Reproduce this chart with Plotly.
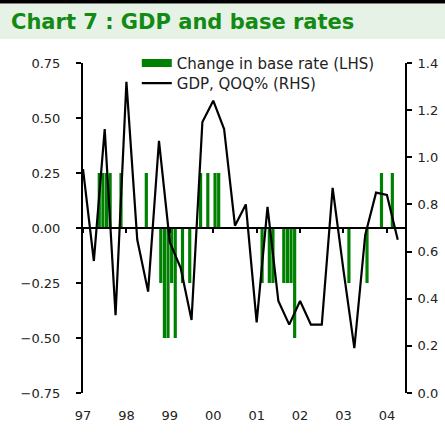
import plotly.graph_objects as go

# ---- data ----
rate_change_months = ["1997-05", "1997-06", "1997-07", "1997-08", "1997-11", "1998-06",
                      "1998-10", "1998-11", "1998-12", "1999-01", "1999-02", "1999-04",
                      "1999-06", "1999-09", "1999-11", "2000-01", "2000-02",
                      "2001-02", "2001-04", "2001-05", "2001-08", "2001-09", "2001-10",
                      "2001-11", "2003-02", "2003-07", "2003-11", "2004-02"]
rate_change_values = [0.25, 0.25, 0.25, 0.25, 0.25, 0.25,
                      -0.25, -0.50, -0.50, -0.25, -0.50, -0.25,
                      -0.25, 0.25, 0.25, 0.25, 0.25,
                      -0.25, -0.25, -0.25, -0.25, -0.25, -0.25,
                      -0.50, -0.25, -0.25, 0.25, 0.25]

gdp_quarters = ["1997Q1", "1997Q2", "1997Q3", "1997Q4", "1998Q1", "1998Q2", "1998Q3", "1998Q4",
                "1999Q1", "1999Q2", "1999Q3", "1999Q4", "2000Q1", "2000Q2", "2000Q3", "2000Q4",
                "2001Q1", "2001Q2", "2001Q3", "2001Q4", "2002Q1", "2002Q2", "2002Q3", "2002Q4",
                "2003Q1", "2003Q2", "2003Q3", "2003Q4", "2004Q1", "2004Q2"]
gdp_qoq = [0.95, 0.56, 1.12, 0.33, 1.32, 0.65, 0.43, 1.07,
           0.64, 0.53, 0.31, 1.15, 1.24, 1.12, 0.71, 0.80,
           0.30, 0.79, 0.39, 0.29, 0.39, 0.29, 0.29, 0.87,
           0.52, 0.19, 0.67, 0.85, 0.84, 0.65]

year_ticks = [1997, 1998, 1999, 2000, 2001, 2002, 2003, 2004]
year_labels = ["97", "98", "99", "00", "01", "02", "03", "04"]

# ---- conversions ----
def month_center(s):
    y, m = s.split("-")
    return int(y) + (int(m) - 1 + 0.5) / 12.0

def quarter_start(s):
    y, q = s.split("Q")
    return int(y) + (int(q) - 1) * 0.25

bar_x = [month_center(s) for s in rate_change_months]
gdp_x = [quarter_start(s) for s in gdp_quarters]

x_range = [1997.0, 1997.0 + 89 / 12.0]
GREEN = "#008000"
FONT = "DejaVu Sans"

fig = go.Figure()

fig.add_trace(go.Bar(x=bar_x, y=rate_change_values, width=0.88 / 12,
                     marker=dict(color=GREEN, line=dict(width=0)),
                     showlegend=False, yaxis="y", xaxis="x"))

# legend proxy for the bars (wide green patch)
fig.add_trace(go.Scatter(x=[None], y=[None], mode="lines",
                         line=dict(color=GREEN, width=8),
                         name="Change in base rate (LHS)", legend="legend"))

fig.add_trace(go.Scatter(x=gdp_x, y=gdp_qoq, mode="lines",
                         line=dict(color="black", width=2.2),
                         name="GDP, QOQ% (RHS)", yaxis="y2", legend="legend2"))

# invisible trace to host the zero-line axis with ticks
fig.add_trace(go.Scatter(x=[x_range[0]], y=[0], mode="markers",
                         marker=dict(opacity=0), showlegend=False,
                         hoverinfo="skip", xaxis="x2", yaxis="y"))

PH = 330.0  # plot height px
PW = 322.0  # plot width px
band_top = (433 - 40 - 4) / PH
band_bot = (433 - 40 - 39) / PH
x_left = -83.0 / PW
x_right = (445 - 83.0) / PW

legend_common = dict(xanchor="left", yanchor="middle", bgcolor="rgba(0,0,0,0)",
                     font=dict(size=15, color="#222222"))

fig.update_layout(
    width=445, height=433,
    margin=dict(l=83, r=40, t=63, b=40, autoexpand=False),
    paper_bgcolor="white", plot_bgcolor="white",
    font=dict(family=FONT, size=13, color="#222222"),
    title=dict(text="<b>Chart 7 : GDP and base rates</b>",
               font=dict(family=FONT, size=21, color="#138a13"),
               x=11 / 445, xanchor="left", xref="container",
               y=1 - 22 / 433, yanchor="middle", yref="container"),
    shapes=[
        dict(type="rect", xref="paper", yref="paper", x0=x_left, x1=x_right,
             y0=band_bot, y1=band_top, fillcolor="#e6f2e6", line=dict(width=0), layer="below"),
        dict(type="rect", xref="paper", yref="paper", x0=x_left, x1=x_right,
             y0=band_top + 0.5 / PH, y1=(433 - 40) / PH + 0.01, fillcolor="black",
             line=dict(width=0), layer="below"),
    ],
    xaxis=dict(range=x_range, showgrid=False, zeroline=False, showline=False,
               tickvals=year_ticks, ticktext=year_labels, ticks="",
               ticklabelstandoff=13, tickfont=dict(size=13), automargin=False),
    xaxis2=dict(range=x_range, overlaying="x", anchor="free", position=0.5,
                showgrid=False, zeroline=False, showline=True, linecolor="black",
                linewidth=2, ticks="outside", ticklen=4, tickwidth=2, tickcolor="black",
                tickvals=year_ticks, showticklabels=False, side="bottom", automargin=False),
    yaxis=dict(range=[-0.75, 0.75], dtick=0.25, tickformat=".2f", showgrid=False,
               zeroline=False, showline=True, linecolor="black", linewidth=2,
               ticks="outside", ticklen=5, tickwidth=2, tickcolor="black",
               ticklabelstandoff=13, automargin=False),
    yaxis2=dict(range=[0, 1.4], dtick=0.2, tickformat=".1f", overlaying="y",
                side="right", anchor="x", showgrid=False, zeroline=False,
                showline=True, linecolor="black", linewidth=2,
                ticks="outside", ticklen=5, tickwidth=2, tickcolor="black",
                ticklabelstandoff=3, automargin=False),
    legend=dict(x=0.167, y=(393 - 63.3) / PH, **legend_common),
    legend2=dict(x=0.167, y=(393 - 83.3) / PH, **legend_common),
    bargap=0.1,
)

fig.write_html("out.html", config={"displayModeBar": False},
               post_script="document.body.style.margin='0';document.body.style.padding='0';")
